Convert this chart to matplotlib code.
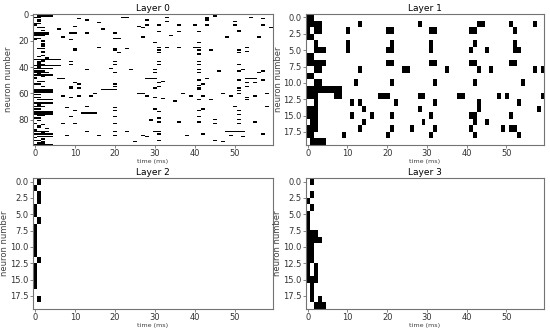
import matplotlib
matplotlib.use("Agg")
import matplotlib.pyplot as plt
import numpy as np

n_steps = 60
titles = ["Layer 0", "Layer 1", "Layer 2", "Layer 3"]

# spike times per neuron, "a-b" means a run of steps a..b
layer0 = [
    "0-4", "1-4 45", "0-1 22-23 33 43 54", "11 43 57", "1 13 28 43",
    "1 33 50", "16", "0-1", "0 28 31 36 40 43 50 57", "10 26",
    "1-2 27 59", "6 17", "2 51", "31 36 41 51", "0-3 9-10 13 20",
    "0-3", "0-2 34", "7 27 48 56", "0-1 20 21", "0 9",
    "2", "30 41", "2", "2", "2",
    "16 31 33 36 40-41 53", "1-2 10 20 23", "10 20 31 41 44 51", "2 53", "2 21 31 51",
    "41", "2", "1", "3", "0-6",
    "2", "1-2 9 20 31 41", "1", "1-2 9 20 31 41 51", "0-6",
    "1", "0-4 19", "13 24 30 41 52", "0-2 46 51 57", "0-3 20 30 41 56",
    "1", "0-4", "2", "0", "0 6-7 28-30 43 53-55",
    "41 51 57", "1-2 32", "10 31 53 55", "0-1 11 20 42", "41",
    "2 9 20 31 53", "9 11 30 41 51", "0-4 17-20 41", "0-4 51", "0-4",
    "15 26-27 37 47 51 58", "0-1", "7 11 14 28 39 42 49 55", "0-1 9 30 53", "32",
    "1-4 41 44 53", "35", "0-4", "0-4", "1",
    "0-2 13 50 58", "8 20", "0-1 30 42", "10 20 41 51", "0-4 31",
    "0-4 12-15", "0-4 51", "1-2", "9 20 41", "0-1 31",
    "29 45 51", "1 29", "31 36 41 55", "0 7 10 20 45 51", "2",
    "1", "1", "3", "0", "0-3 13 20 23 30-31 48-52",
    "2", "0-4 31 42 57", "8 16 20 27 38 49", "1-4 28 52", "0",
    "2", "0-1 31 45", "2 25 47", "1-2", "0-4",
]

layer1 = [
    "0-1", "0-3 13 28 43-44 51 57", "0 2-3 10 20-21 31-32 41-42 52", "0-1",
    "2 10 21 31 42 52", "2-4 10 20-21 31 41 45 52-53", "0-1",
    "0-4 20-21 31-32 41-42 51-52", "2-3 13 24-25 35 43 46 57 59", "0-1",
    "2-3 12 21 32 42 54", "0-8", "0-2 7-8 18-20 28-29 38-39 48 50 59",
    "2 11 13 22 32 43 53", "0-2 14 28 43 58", "0-2 11 16 21 31 41-42 51",
    "1-2 14 29 42 45", "0-2 13 21 26 32 41 49 51-52", "0-1 9 20 31 42 53",
    "1-4",
]

layer2 = [
    "1", "0", "1", "1", "0", "0", "1", "0", "0", "0",
    "0", "0", "1", "0", "0", "0", "0", "", "1", "",
]

layer3 = [
    "1", "", "1", "0", "1", "0", "0", "0", "0-2", "0-3",
    "0-1", "0-1", "0-1", "0 2", "0 2", "0-2", "1", "1", "1 3", "2-4",
]


def to_matrix(rows):
    m = np.zeros((len(rows), n_steps))
    for i, row in enumerate(rows):
        for tok in row.split():
            if "-" in tok:
                a, b = tok.split("-")
                m[i, int(a):int(b) + 1] = 1
            else:
                m[i, int(tok)] = 1
    return m


narrow = ["Liberation Sans Narrow", "DejaVu Sans"]
plt.rcParams["font.size"] = 6
plt.rcParams["axes.edgecolor"] = "0.45"
plt.rcParams["xtick.color"] = "0.45"
plt.rcParams["ytick.color"] = "0.45"
plt.rcParams["xtick.labelcolor"] = "0.2"
plt.rcParams["ytick.labelcolor"] = "0.2"

fig = plt.figure(figsize=(5.5, 3.29), dpi=100)
boxes = [
    [0.060, 0.559, 0.436, 0.398],
    [0.556, 0.559, 0.433, 0.398],
    [0.060, 0.061, 0.436, 0.397],
    [0.556, 0.061, 0.433, 0.397],
]
ylab_x = [-0.085, -0.095, -0.1, -0.1]

for layer, title, box, lx in zip([layer0, layer1, layer2, layer3], titles, boxes, ylab_x):
    m = to_matrix(layer)
    ax = fig.add_axes(box)
    ax.imshow(m, cmap="binary", aspect="auto",
              interpolation="nearest", vmin=0, vmax=1)
    ax.set_title(title, fontsize=6.5, pad=2.5, family=narrow)
    ax.set_xlabel("time (ms)", fontsize=4.6, color="0.25")
    ax.xaxis.set_label_coords(0.5, -0.105)
    ax.set_ylabel("neuron number", fontsize=6, color="0.25")
    ax.yaxis.set_label_coords(lx, 0.5)
    ax.tick_params(labelsize=6, length=2, width=0.6, pad=1)
    ax.set_xticks(np.arange(0, n_steps, 10))
    if m.shape[0] == 20:
        yt = np.arange(0, 20, 2.5)
        ax.set_yticks(yt)
        ax.set_yticklabels([f"{v:.1f}" for v in yt])
    for lab in ax.get_xticklabels() + ax.get_yticklabels():
        lab.set_family(narrow)
    for s in ax.spines.values():
        s.set_linewidth(0.8)

fig.savefig("out.png", dpi=100)
